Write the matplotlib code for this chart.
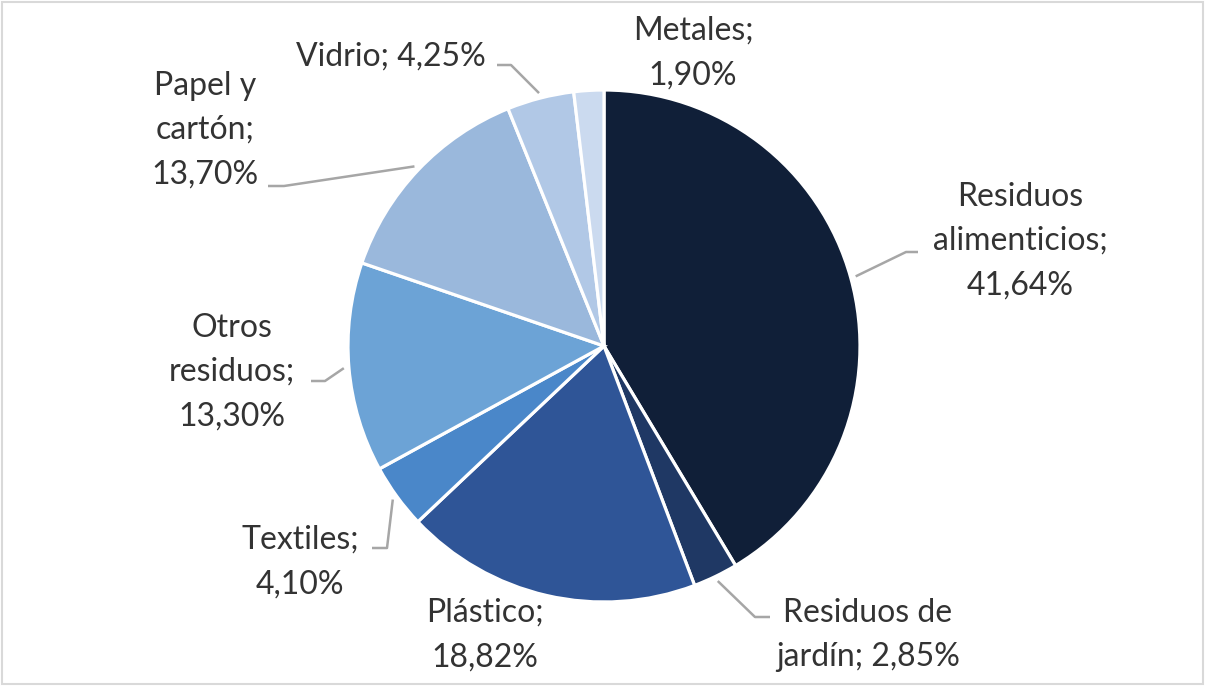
import numpy as np
import matplotlib
matplotlib.use("Agg")
import matplotlib.pyplot as plt
from matplotlib.patches import Rectangle

# data
categorias = ["Residuos\nalimenticios", "Residuos de\njardín", "Plástico", "Textiles",
              "Otros\nresiduos", "Papel y\ncartón", "Vidrio", "Metales"]
porcentajes = [41.64, 2.85, 18.82, 4.10, 13.30, 13.70, 4.25, 1.90]
etiquetas = ["Residuos\nalimenticios;\n41,64%", "Residuos de\njardín; 2,85%", "Plástico;\n18,82%",
             "Textiles;\n4,10%", "Otros\nresiduos;\n13,30%", "Papel y\ncartón;\n13,70%",
             "Vidrio; 4,25%", "Metales;\n1,90%"]
colores = ["#101f38", "#1f3864", "#2f5597", "#4a87c9", "#6ca3d6", "#9ab8dc", "#b1c8e6", "#cbdaef"]

W, H = 1205, 686
CX, CY, R = 604, 346, 256


def px(x, y):
    # pixel position -> data units (pie radius = 1)
    return (x - CX) / R, (CY - y) / R


# label centres and leader elbows (pixels)
pos_etiq = [(1020, 241), (868, 635), (485, 635), (300, 562), (232, 372), (205, 130), (391, 57), (693, 53)]
codos = [[(918, 252), (906, 252)], [(770, 617), (755, 617)], None, [(372, 548), (387, 548)],
         [(311, 381), (325, 381)], [(268, 186), (284, 186)], [(497, 65), (511, 65)], None]

fig = plt.figure(figsize=(W / 100, H / 100), dpi=100)
ax = fig.add_axes([0, 0, 1, 1])

wedges, _ = ax.pie(porcentajes, colors=colores, startangle=90, counterclock=False,
                   radius=1, wedgeprops=dict(edgecolor="white", linewidth=2.3))
ax.set_aspect("auto")
ax.set_xlim(-CX / R, (W - CX) / R)
ax.set_ylim(-(H - CY) / R, CY / R)
ax.axis("off")

for w, txt, p, codo in zip(wedges, etiquetas, pos_etiq, codos):
    lx, ly = px(*p)
    ax.text(lx, ly, txt, ha="center", va="center", fontsize=23, family="Lato",
            color="#333333", linespacing=1.6)
    if codo is not None:
        ang = np.deg2rad((w.theta1 + w.theta2) / 2)
        ex, ey = 1.02 * np.cos(ang), 1.02 * np.sin(ang)
        pts = [px(*c) for c in codo] + [(ex, ey)]
        ax.plot([q[0] for q in pts], [q[1] for q in pts], color="#a6a6a6", lw=1.8,
                solid_capstyle="butt")

fig.add_artist(Rectangle((2 / W, 2 / H), 1 - 4 / W, 1 - 4 / H, transform=fig.transFigure,
                         fill=False, edgecolor="#d9d9d9", lw=1.5))

fig.savefig("out.png", dpi=100)
